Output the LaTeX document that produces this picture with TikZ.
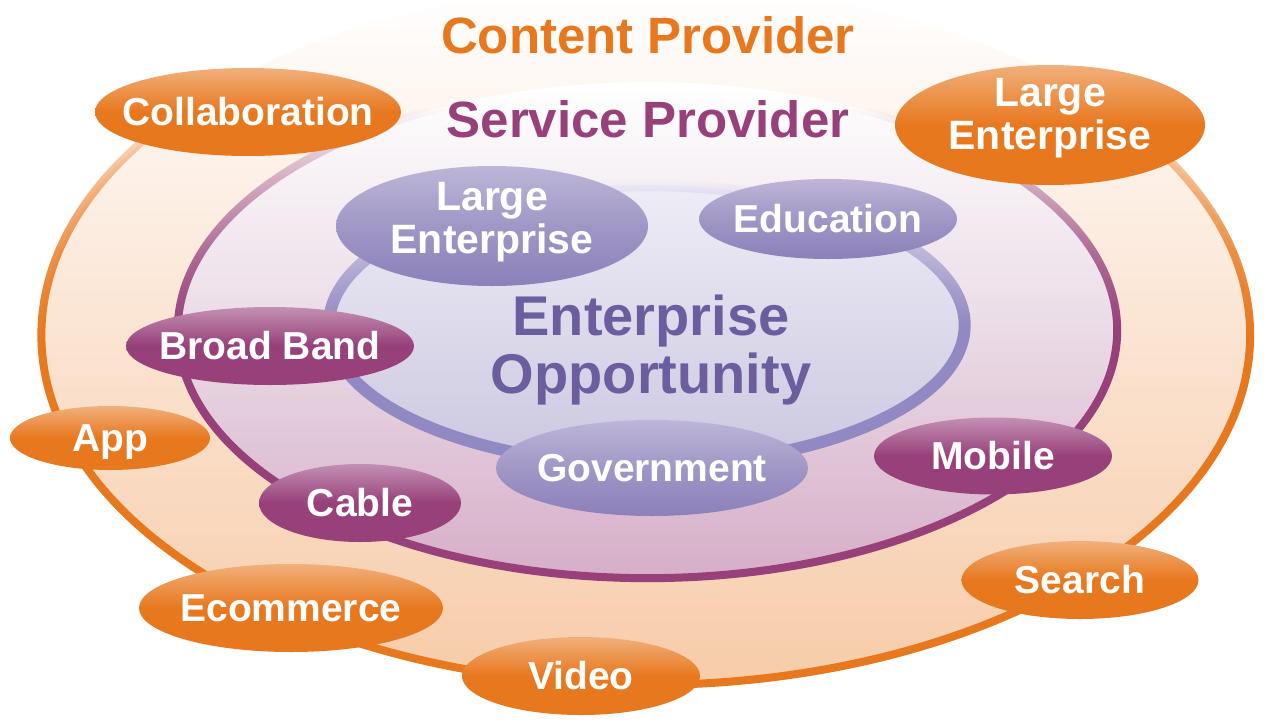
\documentclass[tikz,border=0pt]{standalone}
\usepackage{fontspec}
\setmainfont{Liberation Sans}
\usetikzlibrary{shapes.geometric,fadings}
\definecolor{corange}{HTML}{E8781E}
\definecolor{corangeL}{HTML}{F1B07B}
\definecolor{cpurple}{HTML}{97407A}
\definecolor{cpurpleL}{HTML}{C390B4}
\definecolor{clav}{HTML}{8B80B9}
\definecolor{clavM}{HTML}{A097C6}
\definecolor{clavL}{HTML}{BDB6D8}
\definecolor{clavtext}{HTML}{6C5E9E}
\definecolor{clavring}{HTML}{9189C2}
\definecolor{peachM}{HTML}{FBE4D2}
\definecolor{peachB}{HTML}{F7CCA9}
\definecolor{pinkM}{HTML}{EADBE6}
\definecolor{pinkB}{HTML}{D6AEC7}
\definecolor{lavT}{HTML}{EEEDF6}
\definecolor{lavB}{HTML}{CCC7E0}
% fit fading maps the central +-25bp of a fading onto the path's bounding box
\begin{tikzfadingfrompicture}[name=fadeouter]
  \fill[transparent!0] (-50bp,-50bp) rectangle (50bp,0bp);
  \shade[top color=transparent!20, bottom color=transparent!0] (-50bp,-0.1bp) rectangle (50bp,6bp);
  \shade[top color=transparent!60, bottom color=transparent!20] (-50bp,5.9bp) rectangle (50bp,12.5bp);
  \shade[top color=transparent!100, bottom color=transparent!60] (-50bp,12.4bp) rectangle (50bp,18bp);
  \fill[transparent!100] (-50bp,17.9bp) rectangle (50bp,50bp);
\end{tikzfadingfrompicture}
\begin{tikzfadingfrompicture}[name=fademiddle]
  \fill[transparent!0] (-50bp,-50bp) rectangle (50bp,0bp);
  \shade[top color=transparent!25, bottom color=transparent!0] (-50bp,-0.1bp) rectangle (50bp,7.5bp);
  \shade[top color=transparent!65, bottom color=transparent!25] (-50bp,7.4bp) rectangle (50bp,15.5bp);
  \shade[top color=transparent!100, bottom color=transparent!65] (-50bp,15.4bp) rectangle (50bp,22bp);
  \fill[transparent!100] (-50bp,21.9bp) rectangle (50bp,50bp);
\end{tikzfadingfrompicture}
\begin{tikzfadingfrompicture}[name=fadeinner]
  \fill[transparent!0] (-50bp,-50bp) rectangle (50bp,0bp);
  \shade[top color=transparent!40, bottom color=transparent!0] (-50bp,-0.1bp) rectangle (50bp,10bp);
  \shade[top color=transparent!90, bottom color=transparent!40] (-50bp,9.9bp) rectangle (50bp,23bp);
  \shade[top color=transparent!100, bottom color=transparent!90] (-50bp,22.9bp) rectangle (50bp,25bp);
  \fill[transparent!100] (-50bp,24.9bp) rectangle (50bp,50bp);
\end{tikzfadingfrompicture}
\begin{document}
\begin{tikzpicture}[x=1pt,y=-1pt,
  orangeoval/.style={ellipse, draw=none, inner sep=0pt, top color=corangeL, bottom color=corange, middle color=corange},
  purpleoval/.style={ellipse, draw=none, inner sep=0pt, top color=cpurpleL, bottom color=cpurple, middle color=cpurple},
  lavoval/.style={ellipse, draw=none, inner sep=0pt, top color=clavL, bottom color=clav, middle color=clavM},
  lbl/.style={text=white, font=\fontsize{39}{42}\selectfont\bfseries, inner sep=0pt, anchor=base},
  lbltwo/.style={text=white, font=\fontsize{41}{43}\selectfont\bfseries, inner sep=0pt, anchor=north, align=center},
  title/.style={font=\fontsize{51}{54}\selectfont\bfseries, inner sep=0pt, anchor=base}
]
\useasboundingbox (0,0) rectangle (1271,720);
\fill[white] (0,0) rectangle (1271,720);

% rings
\shade[top color=white, bottom color=peachB, middle color=peachM] (647,335) ellipse [x radius=605, y radius=350];
\draw[path fading=fadeouter, corange, line width=8pt] (647,335) ellipse [x radius=605, y radius=350];
\shade[top color=white, bottom color=pinkB, middle color=pinkM] (648,330) ellipse [x radius=470, y radius=248];
\draw[path fading=fademiddle, cpurple, line width=8pt] (648,330) ellipse [x radius=470, y radius=248];
\shade[top color=lavT, bottom color=lavB] (647,325) ellipse [x radius=318, y radius=140];
\draw[path fading=fadeinner, clavring, line width=12pt] (647,325) ellipse [x radius=318, y radius=140];

% titles
\node[title, text=corange] (cp) at (648,53) {Content Provider};
\node[title, text=cpurple] (sp) at (648,137) {Service Provider};
\node[font=\fontsize{56}{58}\selectfont\bfseries, text=clavtext, align=center, anchor=north, inner sep=0pt] (eo) at (651,295) {Enterprise\\Opportunity};

% outer ovals
\node[orangeoval, minimum width=306pt, minimum height=88pt] (collab) at (248,112) {};
\node[orangeoval, minimum width=310pt, minimum height=120pt] (lentO) at (1050,125) {};
\node[orangeoval, minimum width=200pt, minimum height=64pt] (app) at (110,438) {};
\node[orangeoval, minimum width=304pt, minimum height=88pt] (ecom) at (291,608) {};
\node[orangeoval, minimum width=238pt, minimum height=78pt] (video) at (581,676) {};
\node[orangeoval, minimum width=237pt, minimum height=78pt] (search) at (1080,580) {};
% middle ovals
\node[purpleoval, minimum width=288pt, minimum height=78pt] (broad) at (270,346) {};
\node[purpleoval, minimum width=202pt, minimum height=78pt] (cable) at (360,503) {};
\node[purpleoval, minimum width=238pt, minimum height=77pt] (mobile) at (993,456) {};
% inner ovals
\node[lavoval, minimum width=312pt, minimum height=120pt] (lentI) at (492,226) {};
\node[lavoval, minimum width=258pt, minimum height=80pt] (edu) at (828,219) {};
\node[lavoval, minimum width=312pt, minimum height=96pt] (gov) at (652,468) {};

% labels
\node[lbl] at ([yshift=-13.5pt]collab.center) {Collaboration};
\node[lbltwo] at ([yshift=47pt]lentO.center) {Large\\Enterprise};
\node[lbl] at ([yshift=-13.5pt]app.center) {App};
\node[lbl] at ([yshift=-13.5pt]ecom.center) {Ecommerce};
\node[lbl] at ([yshift=-13.5pt]video.center) {Video};
\node[lbl] at ([yshift=-13.5pt]search.center) {Search};
\node[lbl] at ([yshift=-13.5pt]broad.center) {Broad Band};
\node[lbl] at ([yshift=-13.5pt]cable.center) {Cable};
\node[lbl] at ([yshift=-13.5pt]mobile.center) {Mobile};
\node[lbltwo] at ([yshift=44pt]lentI.center) {Large\\Enterprise};
\node[lbl] at ([yshift=-13.5pt]edu.center) {Education};
\node[lbl] at ([yshift=-13.5pt]gov.center) {Government};
\end{tikzpicture}
\end{document}
